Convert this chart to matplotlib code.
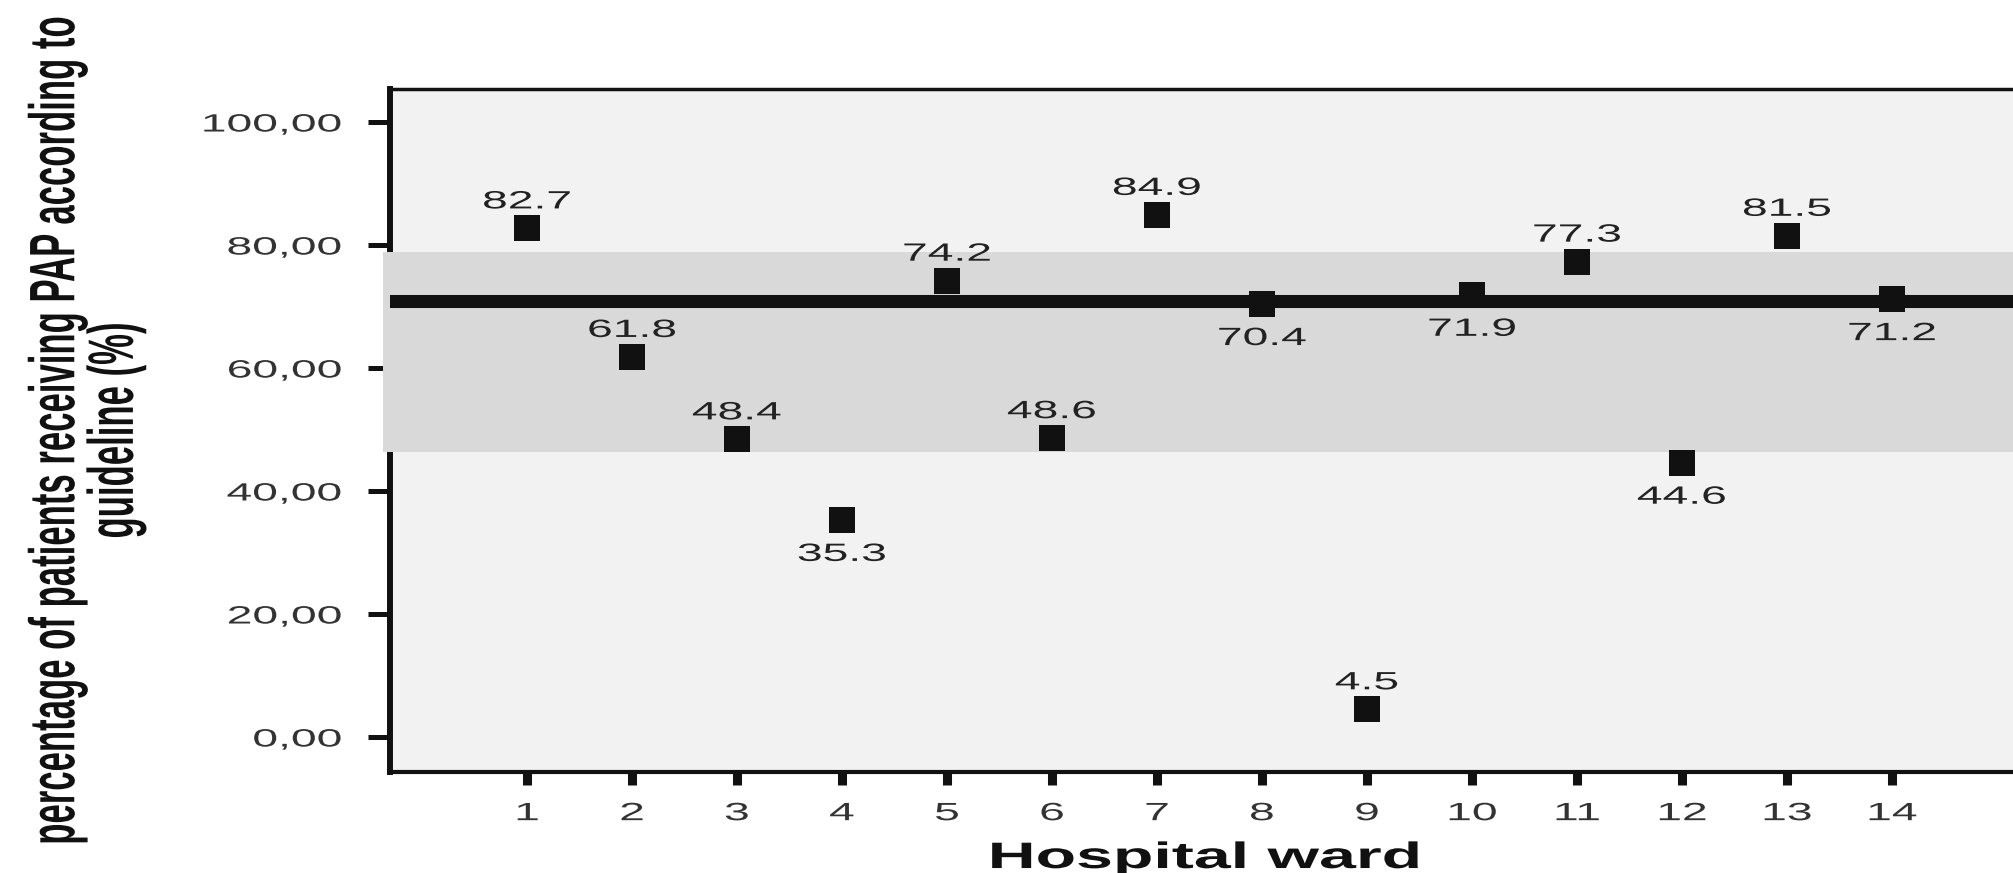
import matplotlib
matplotlib.use('Agg')
import matplotlib.pyplot as plt
from matplotlib.patheffects import AbstractPathEffect
from matplotlib.transforms import Affine2D, ScaledTranslation

# share of patients receiving PAP according to guideline, per hospital ward
wards = list(range(1, 15))
pct = [82.7, 61.8, 48.4, 35.3, 74.2, 48.6, 84.9, 70.4, 4.5, 71.9, 77.3, 44.6, 81.5, 71.2]
mean_pct = 70.9
band_low = 46.4
band_high = 78.8
yticks = [0, 20, 40, 60, 80, 100]
ytick_labels = ['0,00', '20,00', '40,00', '60,00', '80,00', '100,00']


class WideText(AbstractPathEffect):
    """Draw a text artist widened horizontally about its anchor point."""

    def __init__(self, artist, factor):
        super().__init__()
        self.artist = artist
        self.factor = factor

    def draw_path(self, renderer, gc, tpath, affine, rgbFace=None):
        x0, _ = self.artist.get_transform().transform(self.artist.get_unitless_position())
        widen = Affine2D().translate(-x0, 0).scale(self.factor, 1).translate(x0, 0)
        renderer.draw_path(gc, tpath, affine + widen, rgbFace)


def widen(text, factor=1.85):
    text.set_path_effects([WideText(text, factor)])


plt.rcParams['font.family'] = ['Liberation Sans', 'DejaVu Sans']

fig = plt.figure(figsize=(20.13, 8.73), dpi=100)
fig.patch.set_facecolor('white')
ax = fig.add_axes([390 / 2013, 101 / 873, 1630 / 2013, 683 / 873])
ax.set_facecolor('#f2f2f2')

ax.axhspan(band_low, band_high, xmin=-0.004, xmax=1, color='#d9d9d9', lw=0, zorder=2.6, clip_on=False)
ax.plot(wards, pct, ls='none', marker='s', ms=19, mfc='#111111', mec='#111111', mew=0, zorder=3.2)
ax.axhline(mean_pct, color='#111111', lw=9.4, zorder=3.5)

below = {4, 8, 10, 12, 14}
for w, v in zip(wards, pct):
    dy = -29.5 if w in below else 14.4
    off = ScaledTranslation(0, dy / 72, fig.dpi_scale_trans)
    t = ax.text(w, v, '%.1f' % v, transform=ax.transData + off, ha='center', va='baseline',
                fontsize=18, color='#222222', zorder=4)
    widen(t)

ax.set_xlim(-0.305, 15.22)
ax.set_ylim(-5.69, 105.37)
ax.set_xticks(wards)
ax.set_xticklabels([str(w) for w in wards])
ax.set_yticks(yticks)
ax.set_yticklabels(ytick_labels)

ax.tick_params(axis='x', length=9, width=6.5, color='#111111', pad=12, labelsize=18, labelcolor='#333333')
ax.tick_params(axis='y', length=16, width=3.6, color='#111111', pad=18, labelsize=18, labelcolor='#333333')

ax.spines['right'].set_visible(False)
ax.spines['top'].set_linewidth(2.5)
ax.spines['left'].set_linewidth(4.3)
ax.spines['bottom'].set_linewidth(3.0)
for s in ['top', 'left', 'bottom']:
    ax.spines[s].set_color('#111111')

ax.set_xlabel('Hospital ward', fontsize=26.5, fontweight='bold', color='#111111', va='baseline')
ax.xaxis.set_label_coords(0.5, -0.1406)
ax.set_ylabel('percentage of patients receiving PAP according to\nguideline (%)', fontsize=25,
              fontweight='bold', color='#111111', ha='center', va='center', linespacing=0.95)
ax.yaxis.set_label_coords(-0.1865, 0.5)

for lab in ax.get_xticklabels() + ax.get_yticklabels():
    widen(lab)
widen(ax.xaxis.label, 1.8)
widen(ax.yaxis.label)

fig.savefig('out.png', dpi=100)
